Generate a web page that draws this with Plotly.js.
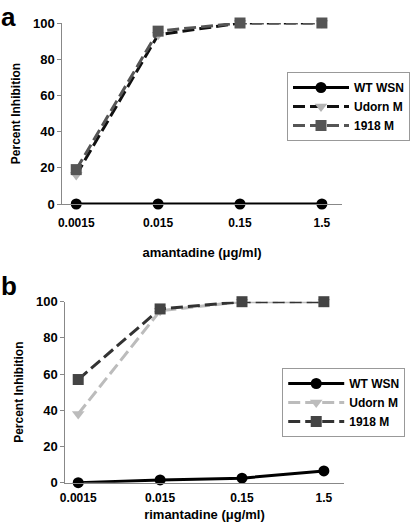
<!DOCTYPE html>
<html><head><meta charset="utf-8">
<script src="https://cdn.plot.ly/plotly-3.0.1.min.js"></script>
<style>html,body{margin:0;padding:0;background:#fff}#chart{width:410px;height:525px}</style>
</head><body><div id="chart"></div>
<script>
const concentrations = [0.0015, 0.015, 0.15, 1.5];
const tickLabels = ['0.0015', '0.015', '0.15', '1.5'];
const seriesNames = ['WT WSN', 'Udorn M', '1918 M'];
const amantadineWT = [0, 0, 0, 0];
const amantadineUdorn = [16, 93.5, 100, 100];
const amantadine1918 = [19, 95.5, 100, 100];
const rimantadineWT = [0, 1.5, 2.5, 6.5];
const rimantadineUdorn = [38, 95, 100, 100];
const rimantadine1918 = [57, 96, 100, 100];
const yTicks = [0, 20, 40, 60, 80, 100];

const FONT = 'Arial, "Liberation Sans", sans-serif';
const dash = '12px,5px';

function trace(name, y, xa, ya, leg, lineColor, dashStyle, symbol, markerColor) {
  return {
    x: concentrations, y: y, name: name, xaxis: xa, yaxis: ya, legend: leg,
    type: 'scatter', mode: 'lines+markers', cliponaxis: false,
    line: {color: lineColor, width: 3, dash: dashStyle},
    marker: {symbol: symbol, size: 11, color: markerColor, line: {width: 0}}
  };
}

const data = [
  trace(seriesNames[0], amantadineWT, 'x', 'y', 'legend', '#000', 'solid', 'circle', '#000'),
  trace(seriesNames[1], amantadineUdorn, 'x', 'y', 'legend', '#111', dash, 'triangle-down', '#b4b4b4'),
  trace(seriesNames[2], amantadine1918, 'x', 'y', 'legend', '#555', dash, 'square', '#555'),
  trace(seriesNames[0], rimantadineWT, 'x2', 'y2', 'legend2', '#000', 'solid', 'circle', '#000'),
  trace(seriesNames[1], rimantadineUdorn, 'x2', 'y2', 'legend2', '#bcbcbc', dash, 'triangle-down', '#bcbcbc'),
  trace(seriesNames[2], rimantadine1918, 'x2', 'y2', 'legend2', '#333', dash, 'square', '#444')
];

const tickFont = {family: FONT, size: 12, color: '#000', weight: 'bold'};
const yTickFont = {family: FONT, size: 13, color: '#000', weight: 'bold'};
const titleFont = {family: FONT, size: 13, color: '#000', weight: 'bold'};

function xaxis(domain, range, anchor, title, standoff, ticklen) {
  return {
    type: 'log', domain: domain, range: range, anchor: anchor,
    tickvals: concentrations, ticktext: tickLabels,
    showline: true, linecolor: '#888', linewidth: 1,
    ticks: 'outside', ticklen: ticklen, tickcolor: 'rgba(0,0,0,0)',
    showgrid: false, zeroline: false, tickfont: tickFont,
    title: {text: title, font: titleFont, standoff: standoff}
  };
}
function yaxis(domain, anchor, standoff) {
  return {
    domain: domain, range: [0, 100], anchor: anchor,
    tickvals: yTicks,
    showline: true, linecolor: '#888', linewidth: 1,
    ticks: 'outside', ticklen: 4, tickcolor: '#888',
    showgrid: false, zeroline: false, tickfont: yTickFont,
    title: {text: 'Percent Inhibition', font: tickFont, standoff: standoff}
  };
}

const legendBase = {
  bgcolor: '#fff', bordercolor: '#999', borderwidth: 1,
  font: {family: FONT, size: 12, color: '#000', weight: 'bold'},
  xanchor: 'left', yanchor: 'top', tracegroupgap: 0, itemwidth: 56
};

const layout = {
  width: 410, height: 525,
  margin: {l: 0, r: 0, t: 0, b: 0},
  paper_bgcolor: '#fff', plot_bgcolor: '#fff',
  font: {family: FONT, color: '#000'},
  showlegend: true,
  xaxis: xaxis([63/410, 345/410], [-2.993, 0.417], 'y', 'amantadine (μg/ml)', 18, 8),
  yaxis: yaxis([1 - 204/525, 1 - 23/525], 'x', 9),
  xaxis2: xaxis([66/410, 347/410], [-2.981, 0.417], 'y2', 'rimantadine (μg/ml)', 5, 4),
  yaxis2: yaxis([1 - 482.7/525, 1 - 301.7/525], 'x2', 9),
  legend: Object.assign({}, legendBase, {x: 290/410, y: 1 - 72/525}),
  legend2: Object.assign({}, legendBase, {x: 285/410, y: 1 - 368/525}),
  annotations: [
    {text: 'a', xref: 'paper', yref: 'paper', x: 0.0, y: 0.968, xanchor: 'left', yanchor: 'middle',
     borderpad: 0, showarrow: false, font: {family: FONT, size: 26, color: '#000', weight: 'bold'}},
    {text: 'b', xref: 'paper', yref: 'paper', x: 0.0, y: 0.455, xanchor: 'left', yanchor: 'middle',
     borderpad: 0, showarrow: false, font: {family: FONT, size: 26, color: '#000', weight: 'bold'}}
  ]
};

Plotly.newPlot('chart', data, layout, {displayModeBar: false, staticPlot: true});
</script>
</body></html>
